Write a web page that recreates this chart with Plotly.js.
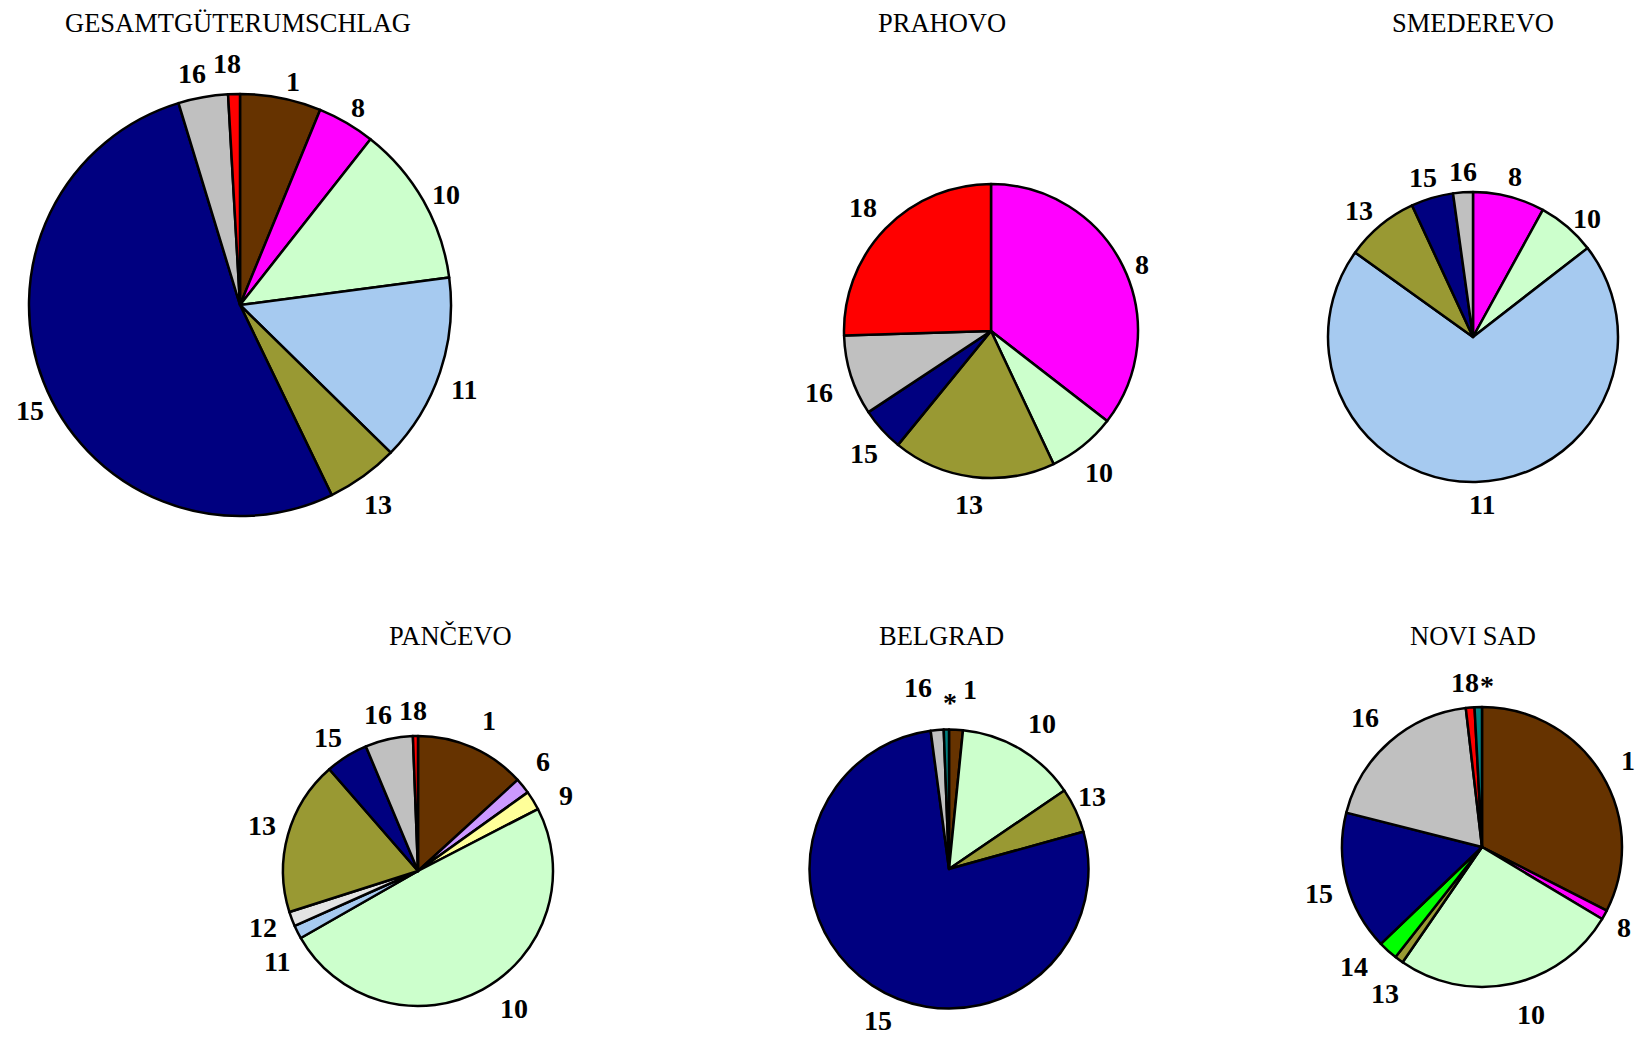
<!DOCTYPE html>
<html><head><meta charset="utf-8">
<script src="https://cdn.plot.ly/plotly-3.0.1.min.js"></script>
<style>html,body{margin:0;padding:0;background:#fff;}#chart{width:1642px;height:1039px;}</style>
</head><body><div id="chart"></div>
<script>
// ---- data ----
const titles = ["GESAMTGÜTERUMSCHLAG", "PRAHOVO", "SMEDEREVO", "PANČEVO", "BELGRAD", "NOVI SAD"];
const gesamtLabels = ["1", "8", "10", "11", "13", "15", "16", "18"];
const gesamtValues = [6.2, 4.4, 12.3, 14.4, 5.5, 52.4, 3.8, 0.9];
const prahovoLabels = ["8", "10", "13", "15", "16", "18"];
const prahovoValues = [35.5, 7.5, 17.9, 4.8, 8.8, 25.5];
const smederevoLabels = ["8", "10", "11", "13", "15", "16"];
const smederevoValues = [8.0, 6.5, 70.4, 8.2, 4.7, 2.2];
const pancevoLabels = ["1", "6", "9", "10", "11", "12", "13", "15", "16", "18"];
const pancevoValues = [13.2, 1.9, 2.3, 49.3, 1.6, 1.75, 18.5, 5.1, 5.7, 0.6];
const belgradLabels = ["1", "10", "13", "15", "16", "*"];
const belgradValues = [1.6, 13.9, 5.2, 77.2, 1.5, 0.6];
const noviSadLabels = ["1", "8", "10", "13", "14", "15", "16", "18", "*"];
const noviSadValues = [32.5, 1.1, 26.0, 1.0, 2.25, 16.1, 19.2, 1.0, 0.85];

// ---- styles ----
const colorMap = {"1":"#663300","6":"#CC99FF","8":"#FF00FF","9":"#FFFF99","10":"#CCFFCC","11":"#A6CAF0",
  "12":"#E3E3E3","13":"#999933","14":"#00FF00","15":"#000080","16":"#C0C0C0","18":"#FF0000","*":"#008080"};
const W = 1642, H = 1039;
const geom = [
  {cx:240, cy:305, r:211, tx:238, ty:23},
  {cx:991, cy:331, r:147, tx:942, ty:23},
  {cx:1473, cy:337, r:145, tx:1473, ty:23},
  {cx:418, cy:871, r:135, tx:450, ty:636},
  {cx:949, cy:869, r:139.5, tx:942, ty:636},
  {cx:1482, cy:847, r:140, tx:1473, ty:636}
];
// label nudges in pixels (pie index -> label -> [dx, dy])
const nudges = {
  0: {"1":[9,2], "8":[3,1], "10":[3,3], "11":[2,12], "13":[2,13], "15":[8,22], "16":[-7,-5], "18":[-6,-12]},
  1: {"8":[4,7], "10":[2,12], "13":[-1,9], "15":[-1,11], "16":[-10,11], "18":[-6,-8]},
  2: {"8":[2,-2], "10":[5,6], "11":[6,4], "13":[-7,0], "15":[-3,-2], "16":[2,-2]},
  3: {"1":[10,-10], "6":[7,-13], "9":[19,5], "10":[21,2], "11":[0,21], "12":[-7,2], "13":[-4,-4], "15":[-7,-3], "16":[-6,-6], "18":[-2,-7]},
  4: {"1":[13,-21], "10":[10,-9], "13":[-4,-6], "15":[19,19], "16":[-17,-24], "*":[4,-8]},
  5: {"1":[13,-3], "8":[5,3], "10":[14,12], "13":[0,18], "14":[-18,2], "15":[-5,6], "16":[-10,-10], "18":[-3,-6], "*":[9,-3]}
};

const pies = [
  [gesamtLabels, gesamtValues], [prahovoLabels, prahovoValues], [smederevoLabels, smederevoValues],
  [pancevoLabels, pancevoValues], [belgradLabels, belgradValues], [noviSadLabels, noviSadValues]
];

const serif = "Liberation Serif";
const traces = [];
const annotations = [];
const labelFont = {family: serif, size: 28, color: "#000"};
pies.forEach(([labels, values], i) => {
  const g = geom[i];
  traces.push({
    type: "pie", labels: labels, values: values, sort: false, direction: "clockwise", rotation: 0,
    textinfo: "none", hoverinfo: "label+percent", showlegend: false,
    marker: {colors: labels.map(l => colorMap[l]), line: {color: "#000", width: 2.5}},
    domain: {x: [(g.cx - g.r) / W, (g.cx + g.r) / W], y: [1 - (g.cy + g.r) / H, 1 - (g.cy - g.r) / H]}
  });
  annotations.push({
    text: titles[i], xref: "paper", yref: "paper", x: g.tx / W, y: 1 - g.ty / H,
    xanchor: "center", yanchor: "middle", showarrow: false,
    font: {family: serif, size: 26.5, color: "#000"}
  });
  const total = values.reduce((a, b) => a + b, 0);
  let cum = 0;
  labels.forEach((lab, k) => {
    const mid = (cum + values[k] / 2) / total * 2 * Math.PI;
    cum += values[k];
    const ux = Math.sin(mid), uy = -Math.cos(mid);
    const w = lab.length * 13, h = 18, gap = 10;
    let px = g.cx + ux * (g.r + gap) + ux * w / 2;
    let py = g.cy + uy * (g.r + gap) + uy * h / 2;
    const n = (nudges[i] || {})[lab];
    if (n) { px += n[0]; py += n[1]; }
    annotations.push({
      text: "<b>" + lab + "</b>", xref: "paper", yref: "paper", x: px / W, y: 1 - py / H,
      xanchor: "center", yanchor: "middle", showarrow: false, font: labelFont
    });
  });
});

Plotly.newPlot("chart", traces, {
  width: W, height: H, margin: {l: 0, r: 0, t: 0, b: 0},
  paper_bgcolor: "#fff", plot_bgcolor: "#fff", showlegend: false, annotations: annotations
}, {displayModeBar: false, staticPlot: true});
</script>
</body></html>
